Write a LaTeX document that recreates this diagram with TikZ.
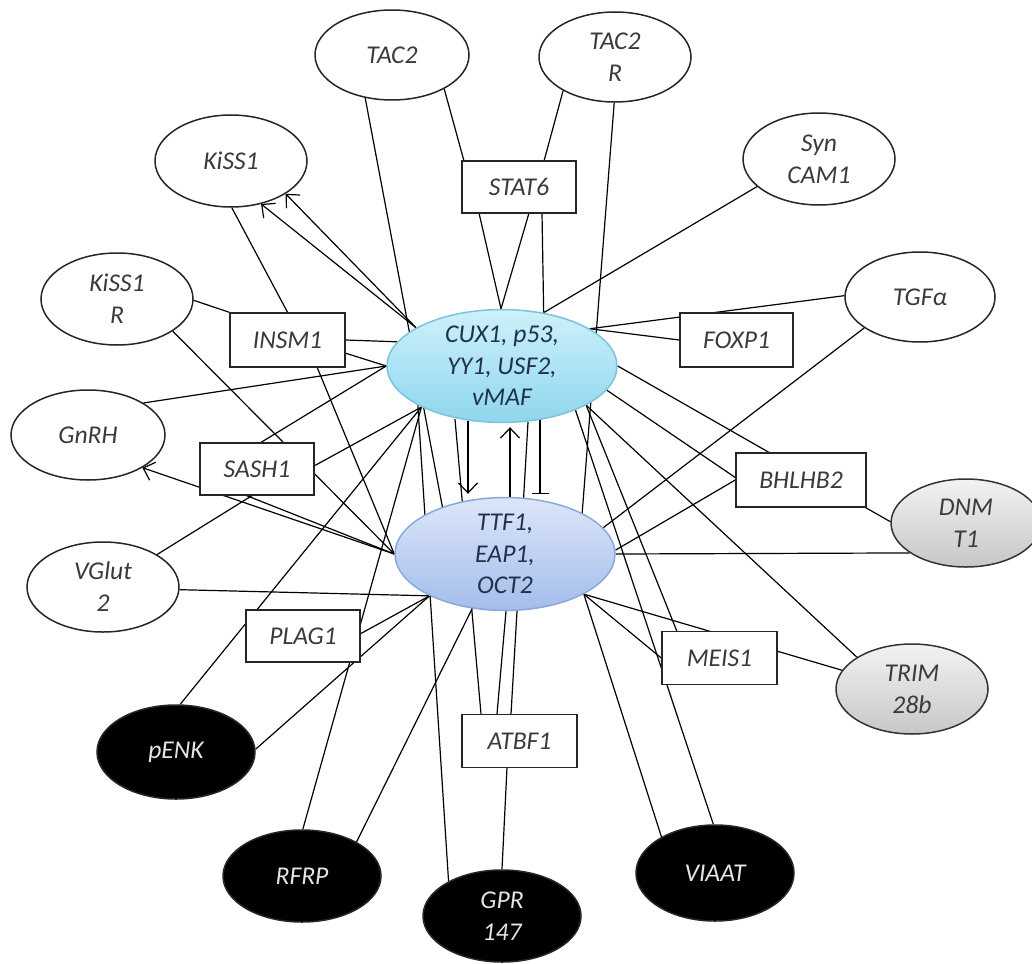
\documentclass[tikz,border=0pt]{standalone}
\usepackage{fontspec}
\setmainfont{Carlito}
\usetikzlibrary{arrows.meta,calc,shapes.geometric}
\pgfdeclarelayer{bg}
\pgfsetlayers{bg,main}
\definecolor{txt}{HTML}{3A3A3A}
\definecolor{hubtxt}{HTML}{1F3050}
\definecolor{cuxtop}{HTML}{CDF1FA}
\definecolor{cuxbot}{HTML}{8FD6EE}
\definecolor{cuxdraw}{HTML}{7BC3DC}
\definecolor{ttftop}{HTML}{DCE6F8}
\definecolor{ttfbot}{HTML}{A3BDEB}
\definecolor{ttfdraw}{HTML}{8AA8DA}
\tikzset{
  lbl/.style={font=\itshape\fontsize{12.8}{16}\selectfont, align=center, inner sep=0pt},
  el/.style={lbl, ellipse, draw=black!85, line width=0.75pt, fill=white, text=txt},
  bx/.style={lbl, rectangle, draw=black!85, line width=0.75pt, fill=white, text=txt},
  blk/.style={el, fill=black, text=white!90!black},
  gry/.style={el, top color=white!95!black, bottom color=black!22, draw=black!80},
  hubA/.style={el, top color=cuxtop, bottom color=cuxbot, draw=cuxdraw, text=hubtxt, font=\itshape\fontsize{12.8}{15.8}\selectfont},
  hubB/.style={el, top color=ttftop, bottom color=ttfbot, draw=ttfdraw, text=hubtxt, font=\itshape\fontsize{12.8}{15.8}\selectfont},
  conn/.style={line width=0.6pt, black},
  arr/.style={conn, -{Straight Barb[length=5pt,width=9.5pt,line width=0.6pt]}},
  tbar/.style={conn, -{Bar[width=8.5pt,line width=0.6pt]}}
}
\begin{document}
\begin{tikzpicture}[x=0.5pt, y=-0.5pt]
\useasboundingbox (0,0) rectangle (1032,963);
% peripheral nodes
\node[el, minimum width=77pt, minimum height=45pt] (tac2) at (392,55) {TAC2};
\node[el, minimum width=76pt, minimum height=45pt] (tac2r) at (615,57) {TAC2\\R};
\node[el, minimum width=76pt, minimum height=46pt] (kiss1) at (231,161) {KiSS1};
\node[el, minimum width=76pt, minimum height=46pt] (syncam) at (819,159) {Syn\\CAM1};
\node[bx, minimum width=57pt, minimum height=26pt] (stat6) at (519,187) {STAT6};
\node[el, minimum width=76pt, minimum height=46pt] (kiss1r) at (117,299) {KiSS1\\R};
\node[bx, minimum width=57.5pt, minimum height=27pt] (insm1) at (287.5,340) {INSM1};
\node[bx, minimum width=56.5pt, minimum height=27pt] (foxp1) at (736.5,340) {FOXP1};
\node[el, minimum width=75pt, minimum height=45pt] (tgfa) at (920,297) {TGFα};
\node[el, minimum width=77pt, minimum height=45pt] (gnrh) at (88,435) {GnRH};
\node[bx, minimum width=57pt, minimum height=26pt] (sash1) at (257,469) {SASH1};
\node[bx, minimum width=65pt, minimum height=27pt] (bhlhb2) at (801,480) {BHLHB2};
\node[gry, minimum width=75pt, minimum height=44pt] (dnmt) at (966,523) {DNM\\T1};
\node[el, minimum width=76pt, minimum height=45pt] (vglut) at (103,587) {VGlut\\2};
\node[bx, minimum width=57pt, minimum height=26pt] (plag1) at (303,636) {PLAG1};
\node[bx, minimum width=57.5pt, minimum height=26.5pt] (meis1) at (719.5,658) {MEIS1};
\node[gry, minimum width=76pt, minimum height=45pt] (trim) at (912,689) {TRIM\\28b};
\node[blk, minimum width=79pt, minimum height=47pt] (penk) at (176,752) {pENK};
\node[bx, minimum width=57.5pt, minimum height=26.5pt] (atbf1) at (519.5,741) {ATBF1};
\node[blk, minimum width=79pt, minimum height=46pt] (rfrp) at (302,876) {RFRP};
\node[blk, minimum width=79pt, minimum height=46pt] (gpr) at (502,916) {GPR\\147};
\node[blk, minimum width=79pt, minimum height=48pt] (viaat) at (715,873) {VIAAT};
% hubs
\node[hubA, minimum width=115pt, minimum height=52pt] (cux) at (502,366) {CUX1, p53,\\YY1, USF2,\\vMAF};
\node[hubB, minimum width=110pt, minimum height=56pt] (ttf) at (505,554) {TTF1,\\EAP1,\\OCT2};
\begin{pgfonlayer}{bg}
% top
\draw[conn] (tac2.238) -- (ttf.143);
\draw[conn] (tac2.-33) -- ($(stat6)+(-55,-26)$);
\draw[conn] (tac2r.213) -- ($(stat6)+(25,-26)$);
\draw[conn] ($(stat6)+(-40,26)$) -- (cux.91);
\draw[conn] ($(stat6)+(10,26)$) -- (cux.91);
\draw[conn] ($(stat6)+(23,26)$) -- (cux.52);
\draw[conn] (tac2r.269) -- (ttf.28);
\draw[conn] (syncam.204) -- (cux.52);
\draw[conn] (tgfa.179) -- (cux.23);
\draw[conn] (foxp1.west) -- (cux.23);
% left
\draw[arr] (cux.156) -- (kiss1.-55);
\draw[arr] (cux.156) -- (kiss1.-31);
\draw[conn] (kiss1.-89) -- (insm1.north);
\draw[conn] (kiss1r.-1) -- (insm1.north west);
\draw[conn] (kiss1r.-30) -- (ttf.west);
\draw[conn] (insm1.east) -- (cux.167);
\draw[conn] ($(insm1)+(57.5,13)$) -- (cux.west);
\draw[conn] (gnrh.30) -- (cux.west);
\draw[conn] ($(sash1)+(3,-26)$) -- (cux.west);
\draw[conn] ($(insm1)+(29.5,27)$) -- (ttf.west);
\draw[arr] (ttf.west) -- (gnrh.-31);
\draw[conn] ($(sash1)+(-12,26)$) -- (ttf.west);
\draw[conn] ($(sash1)+(57,-3)$) -- (cux.207);
\draw[conn] (vglut.31) -- ($(sash1)+(-4,26)$);
\draw[conn] (vglut.-2) -- (ttf.209);
\draw[conn] (cux.207) -- (penk.85);
\draw[conn] (penk.2) -- (ttf.209);
\draw[conn] ($(plag1)+(57,-2)$) -- (ttf.209);
\draw[conn] (rfrp.89) -- (cux.207);
\draw[conn] (cux.205) -- (gpr.147);
% between hubs
\draw[arr] ($(cux.south)+(-34,-2)$) -- ($(ttf.north)+(-37,-3)$);
\draw[arr] ($(ttf.north)+(5,0)$) -- ($(cux.south)+(8,4)$);
\draw[tbar] ($(cux.south)+(38,-3)$) -- ($(ttf.north)+(35,-3)$);
% bottom
\draw[conn] ($(atbf1)+(-22.5,-27)$) -- ($(ttf.south)+(1,0)$);
\draw[conn] ($(cux.south)+(-47,-4)$) -- ($(atbf1)+(-38.5,-27)$);
\draw[conn] ($(cux.south)+(26,-1)$) -- ($(atbf1)+(-8.5,-27)$);
\draw[conn] (ttf.239) -- (rfrp.32);
\draw[conn] ($(atbf1)+(-12.5,26.5)$) -- (gpr.north);
\draw[conn] (cux.-31) -- (viaat.92);
\draw[conn] (ttf.-27) -- (viaat.146);
% right
\draw[conn] (ttf.-27) -- (meis1.west);
\draw[conn] (ttf.-27) -- (trim.165);
\draw[conn] (cux.-25) -- ($(meis1)+(-42.5,-26.5)$);
\draw[conn] (cux.-25) -- (trim.150);
\draw[conn] (cux.-13) -- ($(bhlhb2)+(-65,-2)$);
\draw[conn] (cux.east) -- (dnmt.179);
\draw[conn] (tgfa.209) -- (ttf.15);
\draw[conn] (bhlhb2.west) -- (ttf.2);
\draw[conn] (ttf.east) -- (dnmt.208);
\end{pgfonlayer}
\end{tikzpicture}
\end{document}
